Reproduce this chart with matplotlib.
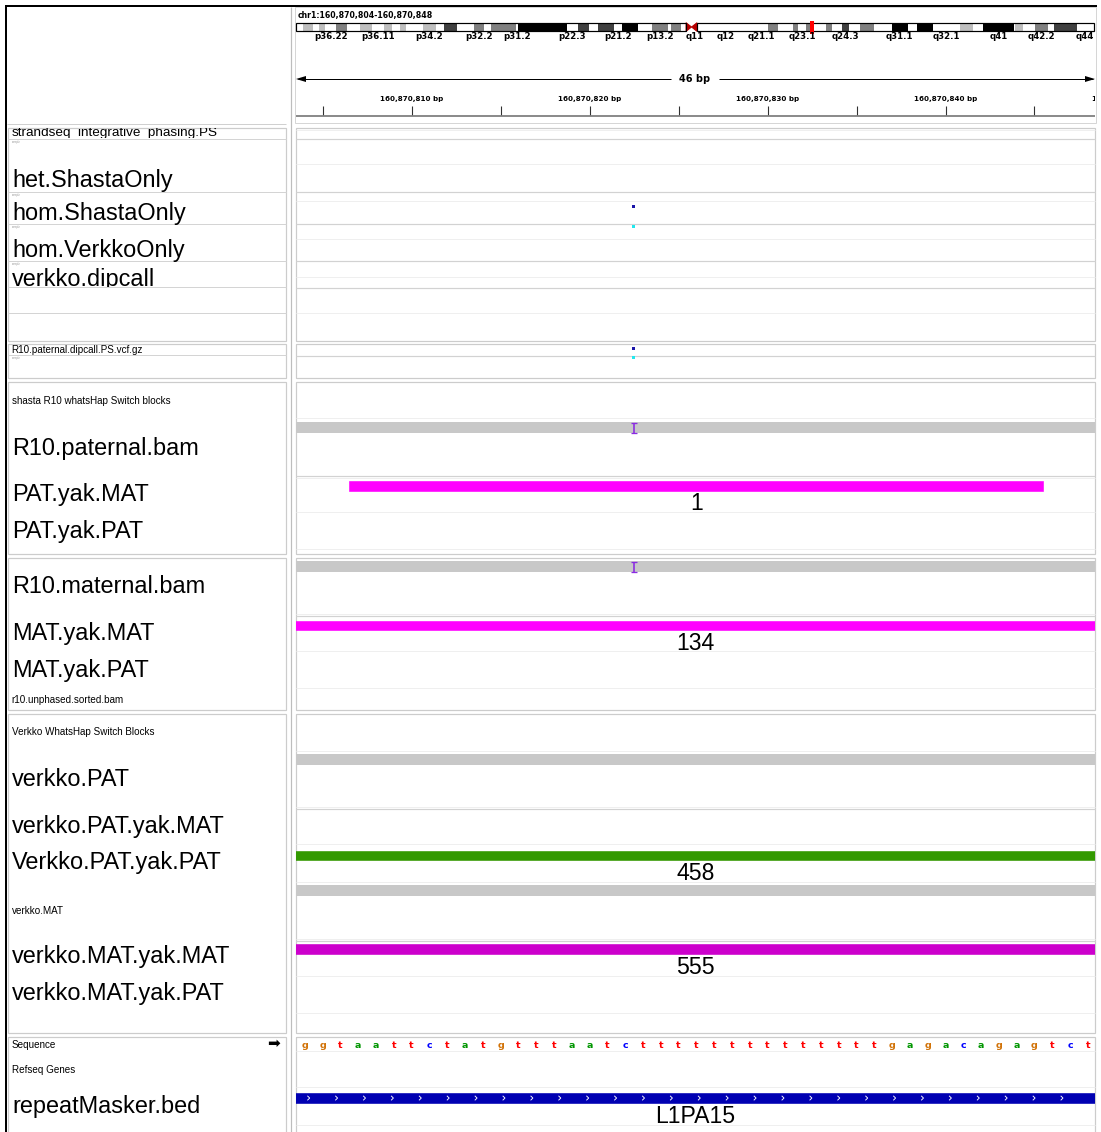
import matplotlib.pyplot as plt
from matplotlib.patches import Rectangle, Polygon
from matplotlib.transforms import blended_transform_factory

plt.rcParams['font.family'] = ['Liberation Sans', 'DejaVu Sans']

# ---------------- what the IGV view shows ----------------
chrom = "chr1"
chrom_len_mb = 248.956
view_start = 160870804
view_end = 160870848
span_label = "46 bp"
ref_seq = "ggtaattctatgtttaatc" + "tttttttttttttt" + "gagacagagtct"
ruler_minor = [160870805, 160870810, 160870815, 160870820, 160870825,
               160870830, 160870835, 160870840, 160870845]
ruler_major = [160870810, 160870820, 160870830, 160870840, 160870850]

# chr1 cytobands (Mb)
band_name = ["p36.33", "p36.32", "p36.31", "p36.23", "p36.22", "p36.21", "p36.13", "p36.12", "p36.11",
             "p35.3", "p35.2", "p35.1", "p34.3", "p34.2", "p34.1", "p33", "p32.3", "p32.2", "p32.1",
             "p31.3", "p31.2", "p31.1", "p22.3", "p22.2", "p22.1", "p21.3", "p21.2", "p21.1",
             "p13.3", "p13.2", "p13.1", "p12", "p11.2", "p11.1", "q11", "q12", "q21.1", "q21.2",
             "q21.3", "q22", "q23.1", "q23.2", "q23.3", "q24.1", "q24.2", "q24.3", "q25.1", "q25.2",
             "q25.3", "q31.1", "q31.2", "q31.3", "q32.1", "q32.2", "q32.3", "q41", "q42.11",
             "q42.12", "q42.13", "q42.2", "q42.3", "q43", "q44"]
band_start = [0, 2.3, 5.3, 7.1, 9.1, 12.5, 15.9, 20.1, 23.6, 27.6, 29.9, 32.3, 34.3, 39.6, 43.7,
              46.3, 50.2, 55.6, 58.5, 60.8, 68.5, 69.3, 84.4, 87.9, 91.5, 94.3, 99.3, 101.8, 106.7,
              111.2, 115.9, 117.1, 120.0, 121.7, 123.4, 125.1, 143.2, 147.4, 150.3, 155.0, 156.6,
              159.1, 160.5, 165.5, 167.2, 170.3, 172.6, 176.1, 180.3, 185.8, 190.8, 193.8, 198.7,
              207.1, 211.3, 214.4, 223.9, 224.4, 226.8, 230.5, 234.6, 236.4, 243.5]
band_stain = ["gneg", "gpos25", "gneg", "gpos25", "gneg", "gpos50", "gneg", "gpos25", "gneg",
              "gpos25", "gneg", "gpos25", "gneg", "gpos25", "gneg", "gpos75", "gneg", "gpos50", "gneg",
              "gpos50", "gneg", "gpos100", "gneg", "gpos75", "gneg", "gpos75", "gneg", "gpos100",
              "gneg", "gpos50", "gneg", "gpos50", "gneg", "acen", "acen", "gvar", "gneg", "gpos50",
              "gneg", "gpos50", "gneg", "gpos50", "gneg", "gpos50", "gneg", "gpos75", "gneg", "gpos50",
              "gneg", "gpos100", "gneg", "gpos100", "gneg", "gpos25", "gneg", "gpos100", "gneg",
              "gpos25", "gneg", "gpos50", "gneg", "gpos75", "gneg"]
band_shown = ["p36.22", "p36.11", "p34.2", "p32.2", "p31.2", "p22.3", "p21.2", "p13.2", "q11", "q12",
              "q21.1", "q23.1", "q24.3", "q31.1", "q32.1", "q41", "q42.2", "q44"]

# track names in the name panel, top to bottom
track_names = ["strandseq_integrative_phasing.PS", "het.ShastaOnly", "hom.ShastaOnly", "hom.VerkkoOnly",
               "verkko.dipcall", "R10.paternal.dipcall.PS.vcf.gz", "shasta R10 whatsHap Switch blocks",
               "R10.paternal.bam", "PAT.yak.MAT", "PAT.yak.PAT", "R10.maternal.bam", "MAT.yak.MAT",
               "MAT.yak.PAT", "r10.unphased.sorted.bam", "Verkko WhatsHap Switch Blocks", "verkko.PAT",
               "verkko.PAT.yak.MAT", "Verkko.PAT.yak.PAT", "verkko.MAT", "verkko.MAT.yak.MAT",
               "verkko.MAT.yak.PAT", "Sequence", "Refseq Genes", "repeatMasker.bed"]
track_font = ["mid", "big", "big", "big", "big", "small", "small", "big", "big", "big", "big", "big",
              "big", "small", "small", "big", "big", "big", "small", "big", "big", "small", "small", "big"]
sample_name = "sample"

# bed / switch-block features (full-width ones run past both edges of the view)
feat_track = ["PAT.yak.MAT", "MAT.yak.MAT", "Verkko.PAT.yak.PAT", "verkko.MAT.yak.MAT", "repeatMasker.bed"]
feat_start = [160870807, 160870000, 160870000, 160870000, 160870000]
feat_end = [160870845, 160872000, 160872000, 160872000, 160872000]
feat_label = ["1", "134", "458", "555", "L1PA15"]
feat_color = ["#ff00ff", "#ff00ff", "#339900", "#cc00cc", "#0000b2"]
feat_strand = ["", "", "", "", "+"]

# reads in the alignment tracks, and the insertion seen in the R10 reads
read_track = ["R10.paternal.bam", "R10.maternal.bam", "verkko.PAT", "verkko.MAT"]
read_start = [160870000, 160870000, 160870000, 160870000]
read_end = [160872000, 160872000, 160872000, 160872000]
ins_track = ["R10.paternal.bam", "R10.maternal.bam"]
ins_pos = [160870822.5, 160870822.5]

# variant calls
var_track = ["hom.ShastaOnly", "hom.VerkkoOnly", "R10.paternal.dipcall.PS.vcf.gz",
             "R10.paternal.dipcall.PS.vcf.gz"]
var_row = ["sample", "site", "site", "sample"]
var_pos = [160870822.45, 160870822.45, 160870822.45, 160870822.45]
var_color = ["#1a14a8", "#22e8ee", "#1a14a8", "#22e8ee"]

base_color = {"a": "#009600", "c": "#0000ff", "g": "#d17105", "t": "#ff0000"}
stain_color = {"gneg": "white", "gvar": "white", "gpos25": "#bfbfbf", "gpos50": "#808080",
               "gpos75": "#404040", "gpos100": "black"}

# ---------------- layout (pixels) ----------------
W, H = 1101, 1132
DIV_X = 290.5
NAME_L, NAME_R = 7.5, 285.5
DATA_L, DATA_R = 296, 1095
FS = {"big": 16.9, "mid": 9.7, "small": 7.1}
label_base = [136, 186.5, 220, 256.7, 286.2, 353.3, 404.3, 455, 501, 538.3, 593.3, 640, 676.7,
              702.7, 735.3, 786, 832.7, 869.3, 914.3, 962.7, 1000, 1047.7, 1072.7, 1113.3]
label_clip = {0: (127.5, 137.6), 4: (261, 287)}
sample_y = [142, 195, 227, 264, 358]
boxes = [(127.5, 341), (344.2, 377.5), (381.7, 554), (557.5, 709.5), (713.8, 1033.3), (1036.7, H + 5)]
name_lines = [139, 192, 224, 261, 287, 313, 355]
data_gray = [139, 192, 224, 261, 288, 356, 476, 616, 809.3, 940.7]
data_light = [130, 164, 201, 239, 277, 313, 418.3, 478, 512.3, 549.3, 614, 651, 687.7, 750.7, 807.3,
              844.3, 881.7, 939, 975.7, 1012.7, 1050.7, 1087.3, 1125]
feat_top = {"PAT.yak.MAT": 481, "MAT.yak.MAT": 620.7, "Verkko.PAT.yak.PAT": 850.7,
            "verkko.MAT.yak.MAT": 944.3, "repeatMasker.bed": 1093.3}
read_top = {"R10.paternal.bam": 422.3, "R10.maternal.bam": 561.3, "verkko.PAT": 754, "verkko.MAT": 885}
var_y = {("hom.ShastaOnly", "sample"): 206, ("hom.VerkkoOnly", "site"): 226,
         ("R10.paternal.dipcall.PS.vcf.gz", "site"): 348, ("R10.paternal.dipcall.PS.vcf.gz", "sample"): 357}
PX = 0.72  # one pixel in points

fig = plt.figure(figsize=(W / 100, H / 100), dpi=100)
bg = fig.add_axes([0, 0, 1, 1])
bg.set_xlim(0, W)
bg.set_ylim(H, 0)
bg.axis('off')

# outer frame and panel boxes
bg.hlines(5.7, 5, 1097, color='black', lw=2 * PX)
bg.vlines(5.7, 5, H, color='black', lw=2 * PX)
bg.vlines(DIV_X, 7, H, color='#bdbdbd', lw=1.2 * PX)
bg.hlines(123.5, 7, 286, color='#d0d0d0', lw=PX)
bg.add_patch(Rectangle((294.5, 7), DATA_R + 0.5 - 294.5, 116, fill=False, ec='#d6d6d6', lw=PX))
for top, bot in boxes:
    bg.add_patch(Rectangle((NAME_L, top), NAME_R - NAME_L, bot - top, fill=False, ec='#cccccc', lw=1.2 * PX))
    bg.add_patch(Rectangle((DATA_L - 0.5, top), DATA_R - DATA_L + 0.5, bot - top, fill=False,
                           ec='#cccccc', lw=1.2 * PX))
bg.hlines(name_lines, NAME_L, NAME_R, color='#d4d4d4', lw=PX)
bg.hlines(data_gray, DATA_L, DATA_R, color='#d2d2d2', lw=1.2 * PX)
bg.hlines(data_light, DATA_L, DATA_R, color='#efefef', lw=PX)

# track names
for i, name in enumerate(track_names):
    t = bg.text(12.2 if track_font[i] == "big" else 11.5, label_base[i], name, fontsize=FS[track_font[i]],
                ha='left', va='baseline', color='black')
    if i in label_clip:
        y0, y1 = label_clip[i]
        clip = Rectangle((NAME_L, y0), NAME_R - NAME_L, y1 - y0, transform=bg.transData)
        t.set_clip_path(clip)
        t.set_clip_on(True)
for y in sample_y:
    bg.text(12, y, sample_name, fontsize=2, color='#a0a0a0', ha='left', va='center')
bg.text(273, 1043, "\u27a1", fontsize=11, ha='center', va='center', family='DejaVu Sans')

# header text
bg.text(298, 17.7, f"{chrom}:{view_start:,}-{view_end:,}", fontsize=5.6, fontweight='bold',
        family='DejaVu Sans', ha='left', va='baseline')

# ---------------- ideogram ----------------
ideo = fig.add_axes([DATA_L / W, 1 - 40 / H, (1094 - DATA_L) / W, 20 / H])
ideo.set_xlim(0, chrom_len_mb)
ideo.axis('off')
ideo.patch.set_alpha(0)
itr = blended_transform_factory(ideo.transData, bg.transData)
I_TOP, I_BOT = 22.7, 31.3
for name, s, e, st in zip(band_name, band_start, band_start[1:] + [chrom_len_mb], band_stain):
    if st == "acen":
        mid = (I_TOP + I_BOT) / 2
        if name.startswith("p"):
            pts = [(s, I_TOP), (s, I_BOT), (e, mid)]
        else:
            pts = [(e, I_TOP), (e, I_BOT), (s, mid)]
        ideo.add_patch(Polygon(pts, closed=True, fc='#b80000', ec='#b80000', lw=PX,
                               transform=itr, clip_on=False))
    else:
        ideo.add_patch(Rectangle((s, I_TOP), e - s, I_BOT - I_TOP, fc=stain_color[st], ec='none',
                                 transform=itr, clip_on=False))
    if name in band_shown:
        ideo.text((s + e) / 2, 39.3, name, fontsize=6.2, fontweight='bold', family='DejaVu Sans',
                  ha='center', va='baseline', transform=itr, clip_on=False)
cen_s = band_start[band_stain.index("acen")]
cen_e = band_start[band_stain.index("acen") + 2]
ideo.add_patch(Rectangle((0, I_TOP), cen_s, I_BOT - I_TOP, fill=False, ec='black', lw=1.2 * PX,
                         transform=itr, clip_on=False))
ideo.add_patch(Rectangle((cen_e, I_TOP), chrom_len_mb - cen_e, I_BOT - I_TOP, fill=False, ec='black',
                         lw=1.2 * PX, transform=itr, clip_on=False))
mb_per_px = chrom_len_mb / (1094 - DATA_L)
here = (view_start + view_end) / 2e6
ideo.add_patch(Rectangle((here - 2 * mb_per_px, 20.5), 4 * mb_per_px, 13, fc='#ff0000', ec='none',
                         transform=itr, clip_on=False))

# ---------------- data panel ----------------
ax = fig.add_axes([DATA_L / W, 0, (DATA_R - DATA_L) / W, 1])
x0, x1 = view_start - 0.5, view_end + 0.4
ax.set_xlim(x0, x1)
ax.set_ylim(H, 0)
ax.axis('off')
ax.patch.set_alpha(0)
bp_per_px = (x1 - x0) / (DATA_R - DATA_L)

# ruler
ax.hlines(79, x0 + 2 * bp_per_px, (x0 + x1) / 2 - 25 * bp_per_px, color='black', lw=PX)
ax.hlines(79, (x0 + x1) / 2 + 23 * bp_per_px, x1 - 2 * bp_per_px, color='black', lw=PX)
ax.add_patch(Polygon([(x0, 79), (x0 + 10 * bp_per_px, 76), (x0 + 10 * bp_per_px, 82)], fc='black',
                     ec='none', clip_on=False))
ax.add_patch(Polygon([(x1, 79), (x1 - 10 * bp_per_px, 76), (x1 - 10 * bp_per_px, 82)], fc='black',
                     ec='none', clip_on=False))
ax.text((x0 + x1) / 2 - 1 * bp_per_px, 79, span_label, fontsize=7, fontweight='bold', family='DejaVu Sans',
        ha='center', va='center')
ax.vlines(ruler_minor, 105.5, 115, color='#303030', lw=1.1 * PX)
ax.hlines(115.8, x0, x1, color='#707070', lw=1.6 * PX)
for p in ruler_major:
    ax.text(p, 101.5, f"{p:,} bp", fontsize=5.1, fontweight='bold', family='DejaVu Sans',
            ha='center', va='baseline', clip_on=True)

# reads and insertions
for trk, s, e in zip(read_track, read_start, read_end):
    ax.add_patch(Rectangle((s - 0.5, read_top[trk]), e - s + 1, 11, fc='#c8c8c8', ec='none'))
for trk, p in zip(ins_track, ins_pos):
    top = read_top[trk]
    ax.vlines(p, top + 0.5, top + 10.5, color='#8a2be2', lw=1.6 * PX)
    ax.hlines([top + 0.8, top + 10.2], p - 2.8 * bp_per_px, p + 2.8 * bp_per_px, color='#8a2be2', lw=1.3 * PX)

# variants
for trk, row, p, c in zip(var_track, var_row, var_pos, var_color):
    y = var_y[(trk, row)]
    ax.add_patch(Rectangle((p - 1.5 * bp_per_px, y - 1.5), 3 * bp_per_px, 3, fc=c, ec='none'))

# features with their names
for trk, s, e, lab, c, strand in zip(feat_track, feat_start, feat_end, feat_label, feat_color, feat_strand):
    top = feat_top[trk]
    ax.add_patch(Rectangle((s - 0.5, top), e - s + 1, 9.5, fc=c, ec=c, lw=0.6 * PX))
    lo, hi = max(s - 0.5, x0), min(e + 0.5, x1)
    ax.text((lo + hi) / 2, top + 29.3, lab, fontsize=16.6, ha='center', va='baseline')
    if strand == "+":
        xa = lo + 13.7 * bp_per_px
        while xa < hi - 5 * bp_per_px:
            ax.plot([xa - 2 * bp_per_px, xa, xa - 2 * bp_per_px], [top + 2.8, top + 4.75, top + 6.7],
                    color='white', lw=0.9 * PX, solid_joinstyle='miter')
            xa += 27.9 * bp_per_px

# reference sequence
for i, b in enumerate(ref_seq):
    ax.text(view_start + i, 1047.8, b, color=base_color[b], fontsize=6.8, fontweight='bold',
            family='DejaVu Sans', ha='center', va='baseline')

fig.savefig('out.png', dpi=100)
